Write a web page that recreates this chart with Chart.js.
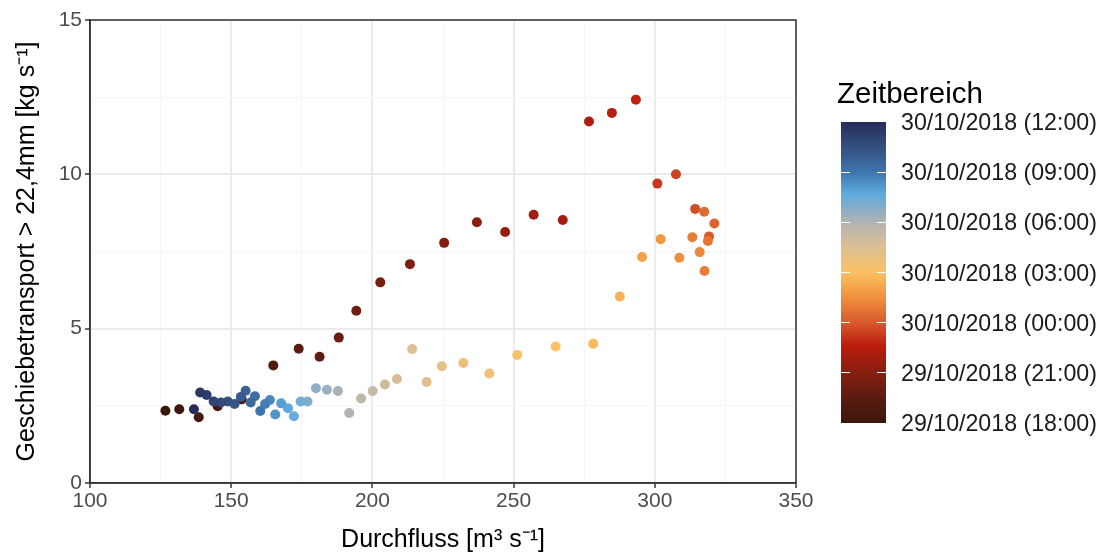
<!DOCTYPE html>
<html>
<head>
<meta charset="utf-8">
<script src="https://cdn.jsdelivr.net/npm/chart.js@4.4.1/dist/chart.umd.min.js"></script>
<style>
    body { margin: 0; background: #fff; font-family: "Liberation Sans", Arial, sans-serif; }
    #wrap { position: relative; width: 1104px; height: 555px; }
    #legend .title { position: absolute; left: 837px; top: 76px; font-size: 29.5px; color: #000; }
    #legend .bar { position: absolute; left: 841px; top: 122px; width: 45px; height: 301px; }
    #legend .tick { position: absolute; width: 9px; height: 1px; background: #fff; }
    #legend .lab { position: absolute; left: 901px; font-size: 23.2px; color: #1a1a1a; white-space: nowrap; transform: translateY(-50%); }
</style>
</head>
<body>
<div id="wrap">
    <canvas id="chart" width="1104" height="555"></canvas>
    <div id="legend"></div>
</div>
<script>
// ============================================
// DATA
// ============================================

// Durchfluss [m3/s]
const durchfluss = [
    126.7, 131.6, 138.5, 145.2, 153.7, 164.9, 173.9, 181.3, 188.1, 194.3,
    202.8, 213.3, 225.4, 237.0, 247.0, 257.1, 267.4, 276.7, 284.8, 293.3,
    300.9, 307.5, 314.3, 317.5, 321.1, 319.2, 318.8, 313.3, 315.9, 317.6,
    308.7, 302.1, 295.5, 287.6, 278.2, 264.9, 251.3, 241.4, 232.2, 224.6,
    214.1, 219.2, 208.7, 204.4, 200.1, 196.0, 191.8, 187.8, 183.9, 180.0,
    177.0, 174.6, 172.2, 170.1, 167.7, 165.6, 163.7, 162.0, 160.3, 158.4,
    156.9, 155.1, 153.4, 151.2, 148.8, 146.4, 143.8, 141.3, 139.0, 136.8
];

// Geschiebetransport > 22,4mm [kg/s]
const geschiebe = [
    2.34, 2.39, 2.13, 2.49, 2.71, 3.81, 4.35, 4.09, 4.71, 5.58,
    6.50, 7.09, 7.78, 8.45, 8.13, 8.69, 8.52, 11.71, 11.99, 12.42,
    9.70, 10.00, 8.88, 8.79, 8.41, 7.99, 7.84, 7.96, 7.48, 6.87,
    7.30, 7.90, 7.32, 6.04, 4.51, 4.42, 4.15, 3.55, 3.89, 3.78,
    4.34, 3.27, 3.37, 3.19, 2.98, 2.74, 2.27, 2.98, 3.02, 3.07,
    2.64, 2.64, 2.16, 2.42, 2.58, 2.22, 2.69, 2.56, 2.33, 2.81,
    2.61, 2.99, 2.79, 2.56, 2.64, 2.61, 2.64, 2.85, 2.93, 2.39
];

// Stunden nach 29/10/2018 18:00
const zeitStunden = [
    0, 0.25, 0.5, 0.75, 1, 1.25, 1.5, 1.75, 2, 2.25,
    2.5, 2.75, 3, 3.25, 3.5, 3.75, 4, 4.25, 4.5, 4.75,
    5.25, 5.5, 5.75, 6.5, 6.25, 6, 6.75, 7, 7.25, 7,
    7.5, 7.75, 8, 8.5, 8.75, 9, 9.25, 9.5, 9.75, 10,
    10.5, 10.25, 10.75, 11, 11.25, 11.5, 12, 12.25, 12.5, 12.75,
    13, 13.25, 13.5, 13.75, 14, 14.25, 14.5, 14.75, 15, 15.25,
    15.5, 15.75, 16, 16.25, 16.5, 16.75, 17, 17.25, 17.5, 18
];

const xTicks = [100, 150, 200, 250, 300, 350];
const yTicks = [0, 5, 10, 15];
const legendTicks = [0, 3, 6, 9, 12, 15, 18];
const legendLabels = [
    '29/10/2018 (18:00)', '29/10/2018 (21:00)', '30/10/2018 (00:00)',
    '30/10/2018 (03:00)', '30/10/2018 (06:00)', '30/10/2018 (09:00)',
    '30/10/2018 (12:00)'
];

// Farbskala [Stunde, Farbe]
const colorStops = [
    [0, '#3a170c'], [1.5, '#5a1b10'], [3, '#861f10'], [4.6, '#bb1c0e'],
    [6, '#d75a2b'], [7.5, '#ef913c'], [9, '#fbc162'], [10.5, '#dcbf93'],
    [12, '#b2b2b2'], [13.7, '#5eaae0'], [15, '#4074ad'], [16.5, '#33507f'],
    [18, '#262c59']
];
const zeitMax = 18;

// ============================================
// HELPERS
// ============================================

function hexToRgb(hex) {
    const n = parseInt(hex.slice(1), 16);
    return [(n >> 16) & 255, (n >> 8) & 255, n & 255];
}

function zeitFarbe(t) {
    for (let i = 1; i < colorStops.length; i++) {
        const [t1, c1] = colorStops[i];
        const [t0, c0] = colorStops[i - 1];
        if (t <= t1) {
            const f = (t - t0) / (t1 - t0);
            const a = hexToRgb(c0), b = hexToRgb(c1);
            const rgb = a.map((v, k) => Math.round(v + (b[k] - v) * f));
            return `rgb(${rgb.join(',')})`;
        }
    }
    return colorStops[colorStops.length - 1][1];
}

// Panel border (top/right)
const panelBorder = {
    id: 'panelBorder',
    afterDraw(chart) {
        const { ctx, chartArea: a } = chart;
        ctx.save();
        ctx.strokeStyle = '#333333';
        ctx.lineWidth = 1.5;
        ctx.strokeRect(a.left, a.top, a.right - a.left, a.bottom - a.top);
        ctx.restore();
    }
};

// ============================================
// CHART
// ============================================

const points = durchfluss.map((x, i) => ({ x: x, y: geschiebe[i] }));
const pointColors = zeitStunden.map(zeitFarbe);

const tickFont = { family: '"Liberation Sans", Arial, sans-serif', size: 21 };
const titleFont = { family: '"Liberation Sans", Arial, sans-serif', size: 25 };

function gridStyle(majorList) {
    return {
        color: ctx => majorList.includes(ctx.tick.value) ? '#ebebeb' : '#f5f5f5',
        lineWidth: ctx => majorList.includes(ctx.tick.value) ? 2 : 1,
        tickColor: ctx => majorList.includes(ctx.tick.value) ? '#333333' : 'rgba(0,0,0,0)',
        tickWidth: 1.5,
        tickLength: 5,
        drawTicks: true
    };
}

new Chart(document.getElementById('chart'), {
    type: 'scatter',
    data: {
        datasets: [{
            data: points,
            pointBackgroundColor: pointColors,
            pointBorderWidth: 0,
            pointRadius: 5,
            pointHoverRadius: 5
        }]
    },
    options: {
        responsive: false,
        animation: false,
        layout: { padding: { top: 20, right: 308, left: 0, bottom: 0 } },
        plugins: { legend: { display: false }, tooltip: { enabled: false } },
        scales: {
            x: {
                type: 'linear',
                min: 100,
                max: 350,
                afterFit: s => { s.height = 72; },
                ticks: {
                    stepSize: 25,
                    autoSkip: false,
                    maxRotation: 0,
                    padding: 1,
                    color: '#4d4d4d',
                    font: tickFont,
                    callback: v => xTicks.includes(v) ? String(v) : ''
                },
                grid: gridStyle(xTicks),
                border: { color: '#333333', width: 1.5 },
                title: {
                    display: true,
                    text: 'Durchfluss [m³ s⁻¹]',
                    color: '#000',
                    font: titleFont,
                    padding: { top: 0, bottom: 0 }
                }
            },
            y: {
                min: 0,
                max: 15,
                afterFit: s => { s.width = 90; },
                ticks: {
                    stepSize: 2.5,
                    autoSkip: false,
                    padding: 3,
                    color: '#4d4d4d',
                    font: tickFont,
                    callback: v => yTicks.includes(v) ? String(v) : ''
                },
                grid: gridStyle(yTicks),
                border: { color: '#333333', width: 1.5 },
                title: {
                    display: true,
                    text: 'Geschiebetransport > 22,4mm [kg s⁻¹]',
                    color: '#000',
                    font: titleFont,
                    padding: { top: 12, bottom: 0 }
                }
            }
        }
    },
    plugins: [panelBorder]
});

// ============================================
// LEGEND (colour bar)
// ============================================

function buildLegend() {
    const legend = document.getElementById('legend');
    const barTop = 122, barHeight = 301, barLeft = 841, barWidth = 45;

    const title = document.createElement('div');
    title.className = 'title';
    title.textContent = 'Zeitbereich';
    legend.appendChild(title);

    const bar = document.createElement('div');
    bar.className = 'bar';
    const stops = colorStops.map(([t, c]) => `${c} ${(t / zeitMax * 100).toFixed(2)}%`);
    bar.style.background = `linear-gradient(to top, ${stops.join(', ')})`;
    legend.appendChild(bar);

    legendTicks.forEach((t, i) => {
        const y = barTop + barHeight - (t / zeitMax) * barHeight;
        if (t > 0 && t < zeitMax) {
            [barLeft, barLeft + barWidth - 9].forEach(x => {
                const tk = document.createElement('div');
                tk.className = 'tick';
                tk.style.left = x + 'px';
                tk.style.top = (y - 0.5) + 'px';
                legend.appendChild(tk);
            });
        }
        const lab = document.createElement('div');
        lab.className = 'lab';
        lab.style.top = y + 'px';
        lab.textContent = legendLabels[i];
        legend.appendChild(lab);
    });
}

buildLegend();
</script>
</body>
</html>
